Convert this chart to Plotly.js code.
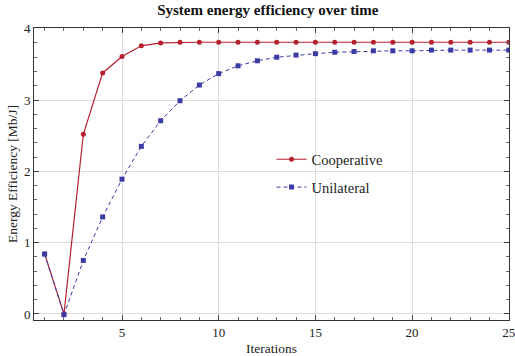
<!DOCTYPE html>
<html>
<head>
<meta charset="utf-8">
<script src="https://cdn.plot.ly/plotly-3.0.1.min.js"></script>
<style>body{margin:0;padding:0;background:#fff}#chart{width:515px;height:356px}</style>
</head>
<body>
<div id="chart"></div>
<script>
const iterations = [1,2,3,4,5,6,7,8,9,10,11,12,13,14,15,16,17,18,19,20,21,22,23,24,25];
const cooperative = [0.84,0.0,2.52,3.38,3.61,3.76,3.80,3.81,3.81,3.81,3.81,3.81,3.81,3.81,3.81,3.81,3.81,3.81,3.81,3.81,3.81,3.81,3.81,3.81,3.81];
const unilateral = [0.84,-0.01,0.75,1.36,1.89,2.35,2.71,2.99,3.21,3.37,3.48,3.55,3.60,3.63,3.65,3.67,3.68,3.69,3.69,3.69,3.70,3.70,3.70,3.70,3.70];
const xTicks = [5,10,15,20,25];
const yTicks = [0,1,2,3,4];

const red = '#b5202e';
const blue = '#3b3ba6';
const font = 'Liberation Serif';

const traces = [
  {x: iterations, y: cooperative, name: 'Cooperative', legendgroup: 'a', type: 'scatter', mode: 'lines+markers',
   line: {color: red, width: 1.2}, marker: {color: red, size: 5, symbol: 'circle'}},
  {x: iterations, y: unilateral, name: 'Unilateral', legendgroup: 'b', type: 'scatter', mode: 'lines+markers',
   line: {color: blue, width: 1, dash: '4px,3px'}, marker: {color: blue, size: 5, symbol: 'square'}}
];

const layout = {
  width: 515, height: 356,
  margin: {l: 34, r: 6, t: 28, b: 36},
  paper_bgcolor: '#fff', plot_bgcolor: '#fff',
  font: {family: font, size: 13, color: '#222'},
  title: {text: '<b>System energy efficiency over time</b>', font: {family: font, size: 15, color: '#111'}, x: 0.52, xanchor: 'center', y: 0.988, yanchor: 'top'},
  showlegend: true,
  legend: {x: 0.5, y: 0.605, xanchor: 'left', yanchor: 'top', bgcolor: 'rgba(0,0,0,0)', font: {family: font, size: 14.5, color: '#222'}, tracegroupgap: 6},
  xaxis: {
    range: [0.45, 25.01], tickvals: xTicks, ticktext: xTicks.map(String), ticklabeloverflow: 'allow',
    showgrid: true, gridcolor: '#dcdcdc', gridwidth: 1, zeroline: false,
    showline: true, linecolor: '#333', linewidth: 1, mirror: 'ticks',
    ticks: 'inside', ticklen: 5, tickcolor: '#444',
    minor: {dtick: 1, tick0: 0, ticks: 'inside', ticklen: 3, tickcolor: '#666', showgrid: false},
    title: {text: 'Iterations', font: {family: font, size: 13.5}, standoff: 5},
    tickfont: {family: font, size: 13}
  },
  yaxis: {
    range: [-0.085, 4.01], tickvals: yTicks, ticktext: yTicks.map(String),
    showgrid: true, gridcolor: '#dcdcdc', gridwidth: 1, zeroline: false,
    showline: true, linecolor: '#333', linewidth: 1, mirror: 'ticks',
    ticks: 'inside', ticklen: 5, tickcolor: '#444',
    minor: {dtick: 0.2, tick0: 0, ticks: 'inside', ticklen: 3, tickcolor: '#666', showgrid: false},
    title: {text: 'Energy Efficiency [Mb/J]', font: {family: font, size: 13.5}, standoff: 3},
    tickfont: {family: font, size: 13}
  }
};

Plotly.newPlot('chart', traces, layout, {displayModeBar: false, staticPlot: true});
</script>
</body>
</html>
